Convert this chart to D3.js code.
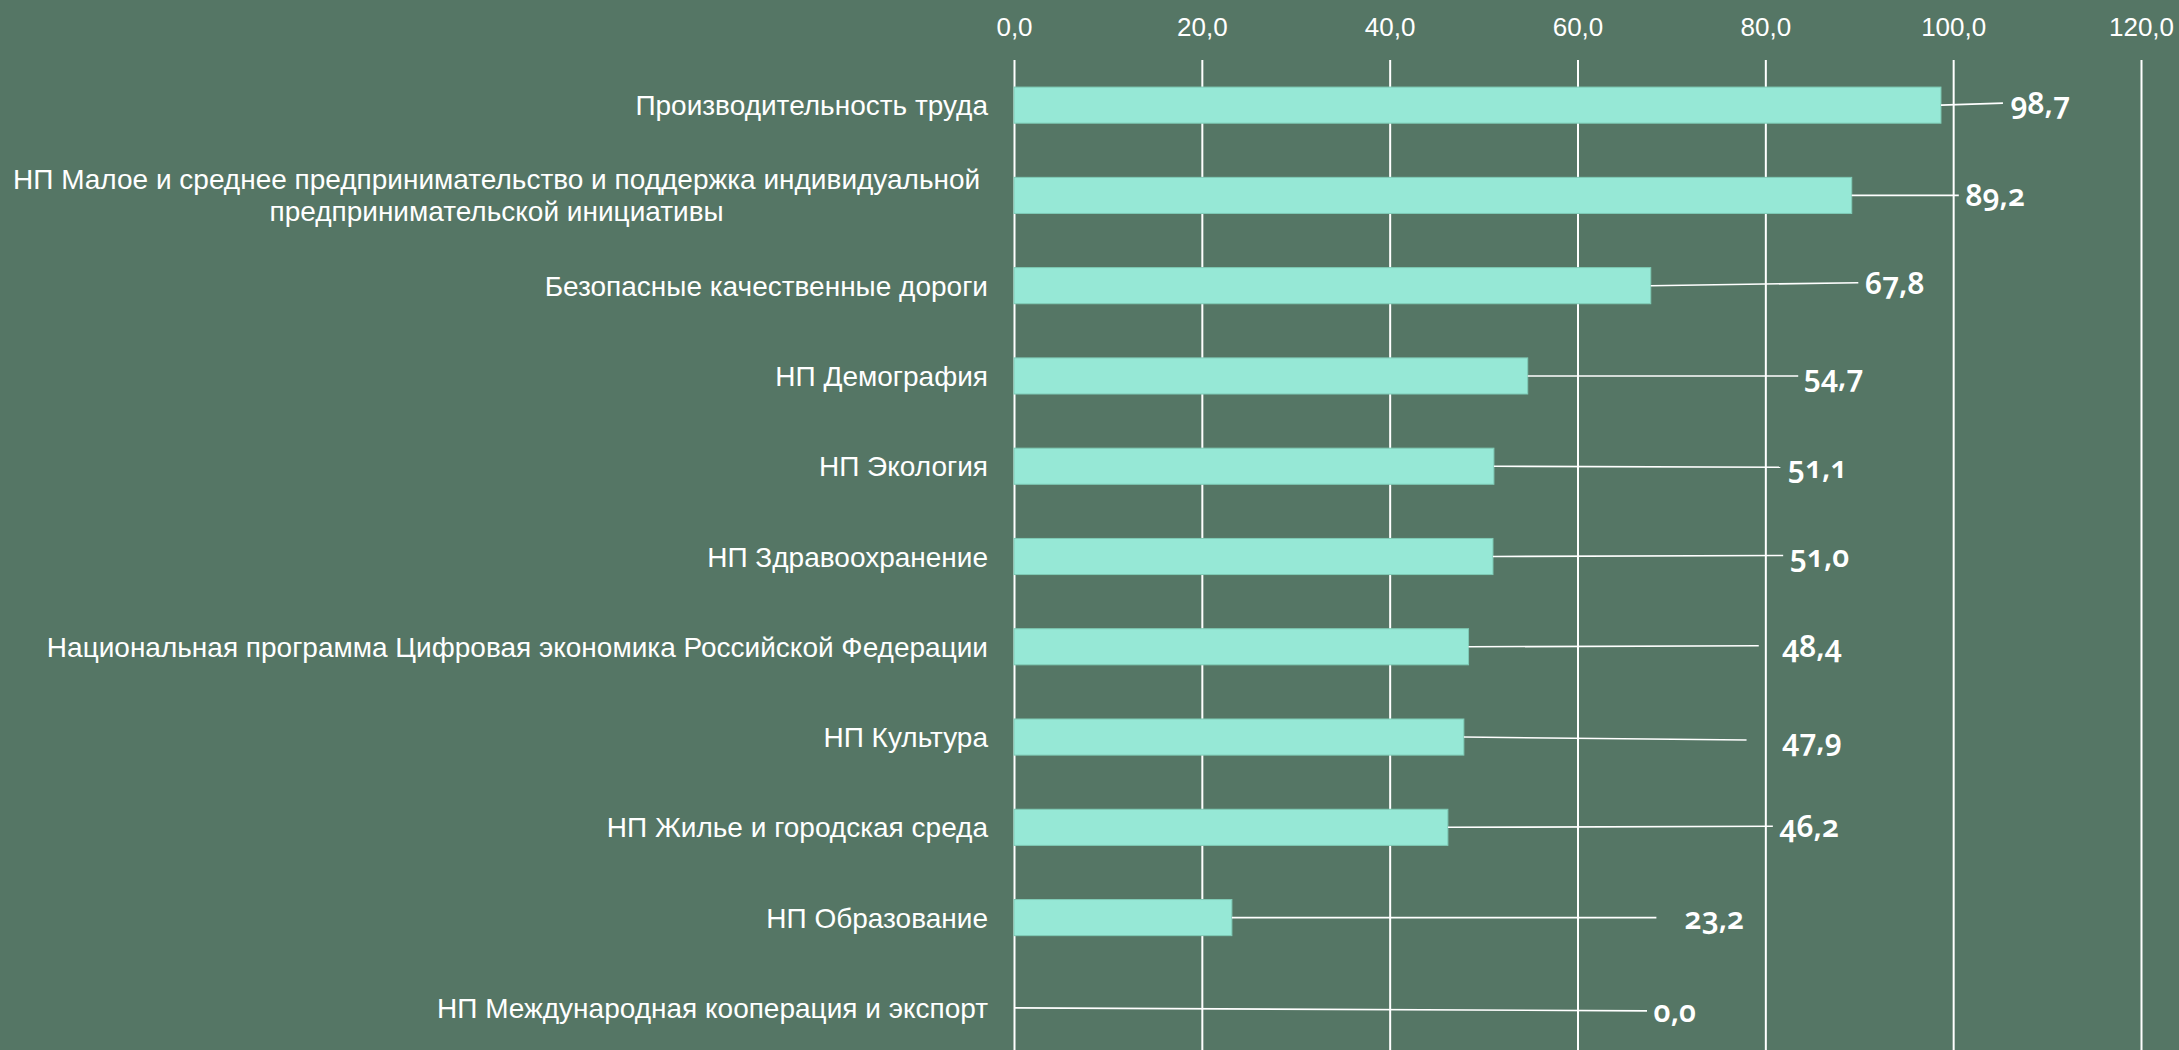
<!DOCTYPE html>
<html>
<head>
<meta charset="utf-8">
<script src="https://cdn.jsdelivr.net/npm/d3@7"></script>
<style>
  html, body { margin: 0; padding: 0; background: #557665; overflow: hidden; }
  svg { display: block; }
  .cat text { white-space: pre; }
</style>
</head>
<body>
<svg id="chart" width="2179" height="1050"></svg>
<script>
// --- data ---
var categories = [
  "Производительность труда",
  "НП Малое и среднее предпринимательство и поддержка индивидуальной \nпредпринимательской инициативы",
  "Безопасные качественные дороги",
  "НП Демография",
  "НП Экология",
  "НП Здравоохранение",
  "Национальная программа Цифровая экономика Российской Федерации",
  "НП Культура",
  "НП Жилье и городская среда",
  "НП Образование",
  "НП Международная кооперация и экспорт"
];
var values = [98.7, 89.2, 67.8, 54.7, 51.1, 51.0, 48.4, 47.9, 46.2, 23.2, 0.0];
var tickValues = [0, 20, 40, 60, 80, 100, 120];

// callout placement (in axis units) as dragged in the original
var labelAt   = [106.1, 101.3, 90.6, 84.1, 82.4, 82.6, 81.8, 81.8, 81.5, 71.4, 68.1];
var leaderEnd = [105.3, 100.6, 89.9, 83.5, 81.6, 81.9, 79.3, 78.0, 80.8, 68.4, 67.4];
var labelShift = [-2, 0, -3, 0, 1, -1, -1, 3, -1, 0, 3];

(function () {
  var svg = d3.select("#chart");
  var W = 2179, H = 1050;
  var top = 60, left = 1014, right = 2141;

  var ru = d3.formatLocale({decimal: ",", thousands: " ", grouping: [3], currency: ["", ""]});
  var fmt = ru.format(".1f");

  var x = d3.scaleLinear().domain([0, 120]).range([left, right]);
  var y = d3.scaleBand()
      .domain(d3.range(categories.length))
      .range([top, top + 993])
      .paddingInner(0.6)
      .paddingOuter(0.3);

  // gridlines
  svg.append("g")
      .attr("class", "grid")
      .attr("transform", "translate(0," + top + ")")
      .call(d3.axisTop(x).tickValues(tickValues).tickSize(-(H - top)).tickFormat(""))
      .call(function (g) { g.select(".domain").remove(); })
      .selectAll("line")
      .attr("stroke", "#ffffff")
      .attr("stroke-width", 2);

  // top tick labels
  svg.append("g")
      .attr("class", "xaxis")
      .attr("transform", "translate(0," + top + ")")
      .call(d3.axisTop(x).tickValues(tickValues).tickSize(0).tickPadding(24).tickFormat(fmt))
      .call(function (g) { g.select(".domain").remove(); })
      .selectAll("text")
      .attr("fill", "#ffffff")
      .style("font-family", "'Liberation Sans', Arial, sans-serif")
      .style("font-size", "26px");

  // bars
  svg.append("g").selectAll("rect")
      .data(values)
      .enter().append("rect")
      .attr("x", x(0))
      .attr("y", function (d, i) { return y(i); })
      .attr("width", function (d) { return x(d) - x(0); })
      .attr("height", y.bandwidth())
      .attr("fill", "#96e8d6")
      .attr("stroke", function (d) { return d > 0 ? "#7fcbb6" : "none"; })
      .attr("stroke-width", 1);

  // category labels
  var labelRight = x(0) - 26;
  var cat = svg.append("g").attr("class", "cat")
      .style("font-family", "'Liberation Sans', Arial, sans-serif")
      .style("font-size", "28px")
      .attr("fill", "#ffffff");

  categories.forEach(function (c, i) {
    var cy = y(i) + y.bandwidth() / 2;
    var lines = c.split("\n");
    var t = cat.append("text");
    if (lines.length === 1) {
      t.attr("x", labelRight).attr("y", cy + 10).attr("text-anchor", "end").text(c);
      return;
    }
    var lh = 32;
    var spans = lines.map(function (l, k) {
      return t.append("tspan")
          .attr("y", cy + 10 + (k - (lines.length - 1) / 2) * lh)
          .text(l);
    });
    // wrapped block keeps its trailing space for the right edge,
    // lines are centred on the visible text
    var full = spans.map(function (s) { return s.node().getComputedTextLength(); });
    var k = d3.maxIndex(full);
    spans[k].text(lines[k].trim());
    var trail = full[k] - spans[k].node().getComputedTextLength();
    var cx = labelRight - full[k] / 2 - trail / 2;
    spans.forEach(function (s, j) {
      s.text(lines[j].trim()).attr("x", cx).attr("text-anchor", "middle");
    });
  });

  // callout leaders
  svg.append("g").selectAll("line")
      .data(values)
      .enter().append("line")
      .attr("x1", function (d) { return x(d); })
      .attr("y1", function (d, i) { return y(i) + y.bandwidth() / 2; })
      .attr("x2", function (d, i) { return x(leaderEnd[i]); })
      .attr("y2", function (d, i) { return y(i) + y.bandwidth() / 2 + labelShift[i]; })
      .attr("stroke", "#ffffff")
      .attr("stroke-width", 1.6);

  // value labels
  svg.append("g").selectAll("text")
      .data(values)
      .enter().append("text")
      .attr("x", function (d, i) { return x(labelAt[i]); })
      .attr("y", function (d, i) { return y(i) + y.bandwidth() / 2 + 11 + labelShift[i]; })
      .attr("fill", "#ffffff")
      .style("font-family", "'Noto Sans', 'Open Sans', sans-serif")
      .style("font-weight", 600)
      .style("font-size", "30px")
      .style("font-variant-numeric", "oldstyle-nums")
      .style("font-feature-settings", "'onum' 1")
      .text(function (d) { return fmt(d); });
})();
</script>
</body>
</html>
